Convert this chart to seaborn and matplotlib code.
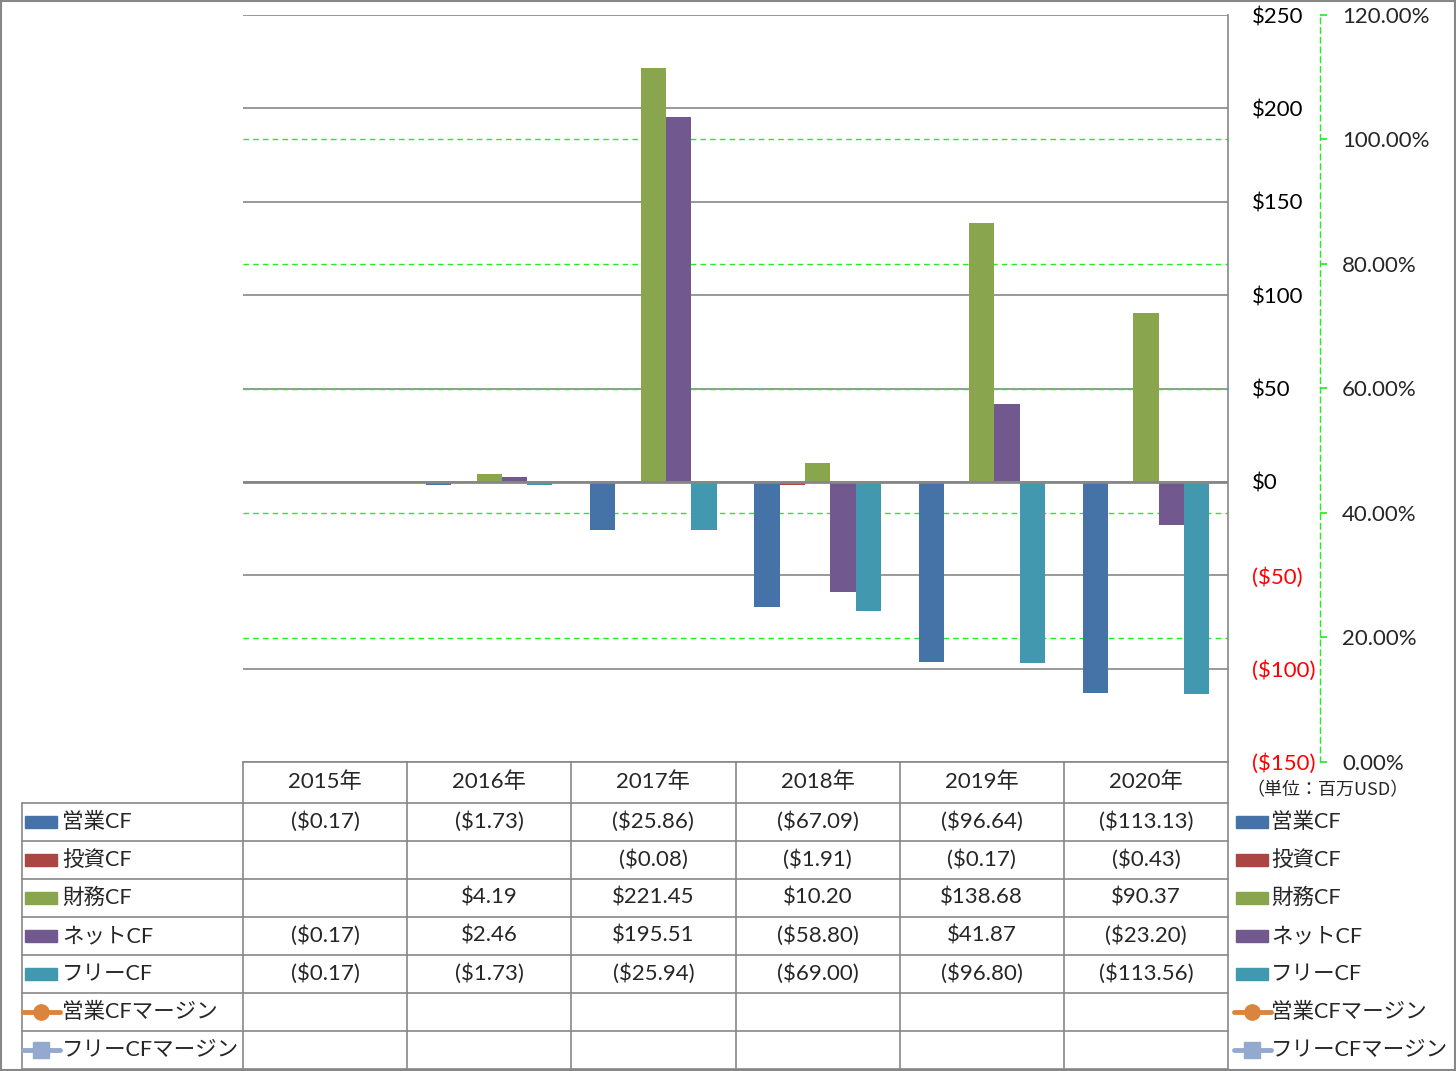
import numpy as np
import pandas as pd
import seaborn as sns
import matplotlib.pyplot as plt
from matplotlib.lines import Line2D
from matplotlib.patches import Rectangle

# data (millions USD)
years = ["2015年", "2016年", "2017年", "2018年", "2019年", "2020年"]
operating_cf = [-0.17, -1.73, -25.86, -67.09, -96.64, -113.13]
investing_cf = [np.nan, np.nan, -0.08, -1.91, -0.17, -0.43]
financing_cf = [np.nan, 4.19, 221.45, 10.20, 138.68, 90.37]
net_cf = [-0.17, 2.46, 195.51, -58.80, 41.87, -23.20]
free_cf = [-0.17, -1.73, -25.94, -69.00, -96.80, -113.56]
op_margin = [np.nan] * 6
free_margin = [np.nan] * 6

bar_names = ["営業CF", "投資CF", "財務CF", "ネットCF", "フリーCF"]
line_names = ["営業CFマージン", "フリーCFマージン"]
bar_colors = ["#4572A7", "#AA4643", "#89A54E", "#71588F", "#4198AF"]
line_colors = ["#DB843D", "#93A9CF"]

W, H = 1456, 1071
GRID = "#878787"
LIME = "#22EE22"
FS = 16

sns.set_theme(style="white")
plt.rcParams["font.family"] = ["Lato", "Noto Sans CJK JP", "DejaVu Sans"]


def fx(x):
    return x / W


def fy(y):
    return 1 - y / H


def money(v):
    if pd.isna(v):
        return ""
    return f"(${abs(v):.2f})" if v < 0 else f"${v:.2f}"


series = [operating_cf, investing_cf, financing_cf, net_cf, free_cf]
df = pd.DataFrame({
    "year": np.repeat(years, len(bar_names)),
    "series": bar_names * len(years),
    "value": [series[j][i] for i in range(len(years)) for j in range(len(bar_names))],
})

fig = plt.figure(figsize=(W / 100, H / 100), dpi=100)
left, right, top, bottom = 243, 1228, 15, 762
ax = fig.add_axes([fx(left), fy(bottom), fx(right - left), (bottom - top) / H])

sns.barplot(data=df, x="year", y="value", hue="series", order=years,
            hue_order=bar_names, palette=bar_colors, width=0.77, linewidth=0,
            saturation=1, errorbar=None, legend=False, ax=ax, zorder=3)

# secondary axis for the (empty) margin lines
ax2 = ax.twinx()
xs = np.arange(len(years))
ax2.plot(xs, op_margin, color=line_colors[0], marker="o")
ax2.plot(xs, free_margin, color=line_colors[1], marker="s")
ax2.set_ylim(0, 1.2)
pt = np.arange(0, 1.21, 0.2)
ax2.set_yticks(pt)
ax2.set_yticklabels([f"{p * 100:.2f}%" for p in pt])
ax2.spines["right"].set_position(("outward", (1320 - right) * 0.72))
ax2.spines["right"].set_color(LIME)
ax2.spines["right"].set_linestyle((0, (4, 3)))
ax2.spines["right"].set_linewidth(1)
for s in ["left", "top", "bottom"]:
    ax2.spines[s].set_visible(False)
ax2.tick_params(axis="y", length=5, color=LIME, pad=11, labelsize=FS)
ax2.grid(False)

ax.set_ylim(-150, 250)
ax.set_xlim(-0.5, len(years) - 0.5)
yt = np.arange(-150, 251, 50)
ax.set_yticks(yt)
ax.set_yticklabels([money(v).replace(".00", "") for v in yt])
ax.yaxis.tick_right()
for lab, v in zip(ax.get_yticklabels(), yt):
    lab.set_color("red" if v < 0 else "black")
ax.tick_params(axis="y", length=0, pad=17, labelsize=FS)
ax.tick_params(axis="x", length=0, labelbottom=False)
ax.set_xlabel("")
ax.set_ylabel("")
for v in yt:
    ax.axhline(v, color=GRID, lw=1.2, zorder=1)
ax.axhline(0, color=GRID, lw=2, zorder=4)
# secondary-axis gridlines, drawn behind the bars
for p in [0.2, 0.4, 0.6, 0.8, 1.0]:
    ax.axhline(-150 + p / 1.2 * 400, color=LIME, lw=1, ls=(0, (4, 3)), zorder=2)
for s in ["left", "top"]:
    ax.spines[s].set_visible(False)
for s in ["right", "bottom"]:
    ax.spines[s].set_color(GRID)
    ax.spines[s].set_linewidth(1.2)

# data table under the plot
line_kw = dict(color=GRID, lw=1.2)
col_w = (right - left) / len(years)
row_ys = [803 + 38 * i for i in range(8)]
fig.add_artist(Line2D([fx(left), fx(left)], [fy(762), fy(1069)], **line_kw))
for i in range(1, len(years) + 1):
    x = left + col_w * i
    fig.add_artist(Line2D([fx(x), fx(x)], [fy(762), fy(1069)], **line_kw))
fig.add_artist(Line2D([fx(22), fx(22)], [fy(803), fy(1069)], **line_kw))
for y in row_ys:
    fig.add_artist(Line2D([fx(22), fx(right)], [fy(y), fy(y)], **line_kw))

for i, yr in enumerate(years):
    fig.text(fx(left + col_w * (i + 0.5)), fy(782), yr, ha="center", va="center", fontsize=FS)

all_names = bar_names + line_names
all_series = series + [op_margin, free_margin]
for r, (name, vals) in enumerate(zip(all_names, all_series)):
    yc = (row_ys[r] + row_ys[r + 1]) / 2
    for i, v in enumerate(vals):
        fig.text(fx(left + col_w * (i + 0.5)), fy(yc), money(v), ha="center", va="center", fontsize=FS)
    for x0, tx in [(25, 62), (1236, 1271)]:
        if r < len(bar_names):
            fig.add_artist(Rectangle((fx(x0), fy(yc + 6)), fx(32), 12 / H,
                                     color=bar_colors[r], transform=fig.transFigure))
        else:
            c = line_colors[r - len(bar_names)]
            fig.add_artist(Line2D([fx(x0 - 2), fx(x0 + 35)], [fy(yc), fy(yc)], color=c, lw=3.5,
                                  solid_capstyle="round", transform=fig.transFigure))
            fig.add_artist(Line2D([fx(x0 + 16)], [fy(yc)], color=c, lw=0,
                                  marker="o" if r == 5 else "s", markersize=11,
                                  transform=fig.transFigure))
        fig.text(fx(tx), fy(yc), name, ha="left", va="center", fontsize=15.5)

fig.text(fx(1246), fy(790), "（単位：百万USD）", ha="left", va="center", fontsize=13,
         family=["Noto Sans CJK JP"])

fig.add_artist(Rectangle((0.0005, 0.0005), 0.999, 0.999, fill=False, edgecolor=GRID,
                         lw=1.5, transform=fig.transFigure))

fig.savefig("out.png", dpi=100)
